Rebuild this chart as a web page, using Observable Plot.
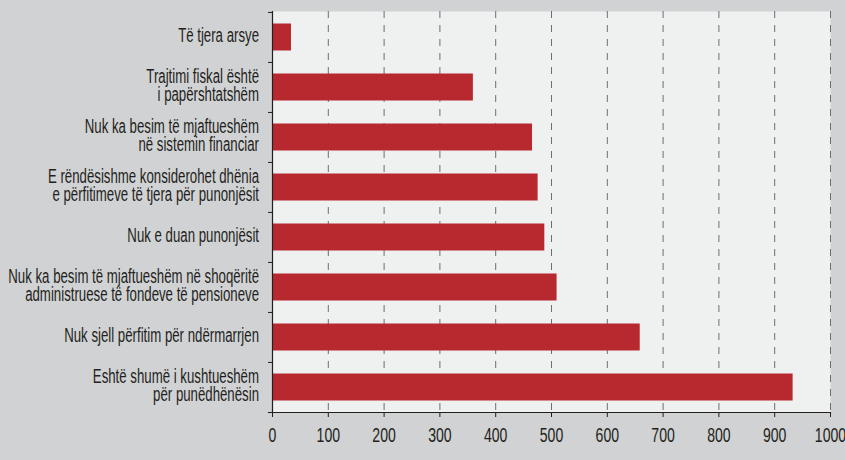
<!DOCTYPE html>
<html><head><meta charset="utf-8">
<script src="https://cdn.jsdelivr.net/npm/d3@7"></script>
<script src="https://cdn.jsdelivr.net/npm/@observablehq/plot@0.6"></script>
<style>html,body{margin:0;padding:0;background:#d1d2d4;}</style>
</head><body><div id="chart"></div>
<script>
const categories = [
  "Të tjera arsye",
  "Trajtimi fiskal është\ni papërshtatshëm",
  "Nuk ka besim të mjaftueshëm\nnë sistemin financiar",
  "E rëndësishme konsiderohet dhënia\ne përfitimeve të tjera për punonjësit",
  "Nuk e duan punonjësit",
  "Nuk ka besim të mjaftueshëm në shoqëritë\nadministruese të fondeve të pensioneve",
  "Nuk sjell përfitim për ndërmarrjen",
  "Eshtë shumë i kushtueshëm\npër punëdhënësin"
];
const values = [34, 360, 466, 476, 488, 510, 659, 933];
const xTicks = [0, 100, 200, 300, 400, 500, 600, 700, 800, 900, 1000];
const gridTicks = [100, 200, 300, 400, 500, 600, 700, 800, 900, 1000];

const data = categories.map((c, i) => ({label: c, value: values[i]}));

const W = 845, H = 460, mT = 11, mB = 48, mL = 272, mR = 15;
const band = (H - mT - mB) / categories.length;

const svg = Plot.plot({
  width: W, height: H,
  marginLeft: mL, marginRight: mR, marginTop: mT, marginBottom: mB,
  style: {fontFamily: "Liberation Sans, Arial, sans-serif", fontSize: "21px", background: "#d1d2d4", color: "#231f20", overflow: "visible"},
  x: {domain: [0, 1000], label: null},
  y: {domain: categories, padding: 0, label: null},
  marks: [
    Plot.frame({fill: "#eff0f0", stroke: null}),
    Plot.ruleX(gridTicks, {stroke: "#6d6e70", strokeWidth: 1, strokeDasharray: "7,7", strokeOpacity: 1}),
    Plot.barX(data, {x: "value", y: "label", fill: "#b8292f", insetTop: 11.5, insetBottom: 11.5}),
    Plot.ruleX([0], {stroke: "#231f20", strokeWidth: 1.2}),
    Plot.frame({anchor: "bottom", stroke: "#231f20", strokeWidth: 1.2, insetLeft: -4}),
    Plot.axisY({tickSize: 4, tickFormat: () => "", dy: -band / 2, label: null}),
    Plot.axisY({tickSize: 0, tickPadding: 13.5, lineHeight: 0.87, dy: -1, label: null}),
    Plot.axisX({ticks: xTicks, tickFormat: d => String(d), tickSize: 5, tickPadding: 10, label: null})
  ]
});

svg.querySelectorAll('[aria-label="y-axis tick label"] text').forEach(t => {
  const tr = t.getAttribute("transform") || "";
  t.setAttribute("transform", tr + " scale(0.63,1)");
});
svg.querySelectorAll('[aria-label="x-axis tick label"] text').forEach(t => {
  const tr = t.getAttribute("transform") || "";
  t.setAttribute("transform", tr + " scale(0.67,1)");
});
document.getElementById("chart").appendChild(svg);
</script>
</body></html>
